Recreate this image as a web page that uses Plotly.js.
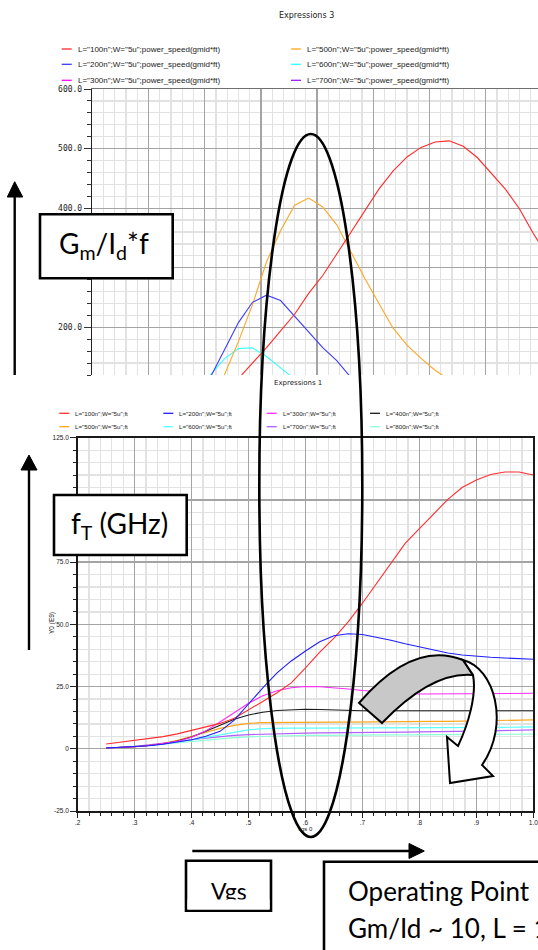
<!DOCTYPE html>
<html>
<head>
<meta charset="utf-8">
<script src="https://cdn.plot.ly/plotly-3.0.1.min.js"></script>
<style>
  html, body { margin: 0; padding: 0; background: #ffffff; }
  #chart { width: 538px; height: 950px; }
</style>
</head>
<body>
<div id="chart"></div>
<script>
// ---------- Upper panel: power_speed(gmid*ft) vs Vgs ----------
const topVgs = [0.385, 0.41, 0.435, 0.46, 0.485, 0.51, 0.535, 0.56, 0.585, 0.61, 0.635, 0.66, 0.685,
                0.71, 0.735, 0.76, 0.785, 0.81, 0.835, 0.86, 0.885, 0.91, 0.935, 0.96, 0.985, 1.01];
const topL100 = [null, null, 88, 114, 140, 166, 194, 222, 257, 287, 323, 360, 397,
                 432, 462, 486, 502, 511, 513, 504, 485, 459, 432, 399, 357, 320];
const topL200 = [75, 116, 162, 208, 242, 254, 245, 219, 192, 166, 144, 116, null,
                 null, null, null, null, null, null, null, null, null, null, null, null, null];
const topL500 = [null, 70, 120, 176, 238, 310, 362, 405, 417, 402, 372, 327, 282,
                 240, 199, 170, 148, 128, 112, null, null, null, null, null, null, null];
const topL600 = [88, 120, 147, 164.5, 165.5, 151, 132, 113, null, null, null, null, null,
                 null, null, null, null, null, null, null, null, null, null, null, null, null];

const topLegendNames = [
  'L="100n";W="5u";power_speed(gmid*ft)',
  'L="200n";W="5u";power_speed(gmid*ft)',
  'L="300n";W="5u";power_speed(gmid*ft)',
  'L="500n";W="5u";power_speed(gmid*ft)',
  'L="600n";W="5u";power_speed(gmid*ft)',
  'L="700n";W="5u";power_speed(gmid*ft)'
];
const topLegendColors = ['#ff2a2a', '#3c3cff', '#ff00ff', '#ffa623', '#33ffff', '#9a1aff'];
const topYTickVals = [200, 300, 400, 500, 600];
const topYTickText = ['200.0', '300.0', '400.0', '500.0', '600.0'];

// ---------- Lower panel: fT (GHz) vs Vgs ----------
const vgs = [0.25, 0.275, 0.3, 0.325, 0.35, 0.375, 0.4, 0.425, 0.45, 0.475, 0.5, 0.525, 0.55, 0.575, 0.6, 0.625,
             0.65, 0.675, 0.7, 0.725, 0.75, 0.775, 0.8, 0.825, 0.85, 0.875, 0.9, 0.925, 0.95, 0.975, 1.0];
const ftL100 = [1.9, 2.6, 3.3, 4.0, 4.9, 6.0, 7.3, 8.6, 10.2, 12.3, 15.5, 19.0, 22.5, 26.5, 32.5, 38.8,
                44.5, 51.0, 58.5, 66.5, 75.0, 82.5, 88.5, 94.5, 100.2, 105.0, 108.0, 110.2, 111.2, 111.2, 110.0];
const ftL200 = [0.3, 0.5, 0.8, 1.2, 1.8, 2.6, 3.6, 5.0, 7.0, 11.5, 18.0, 24.5, 30.5, 35.3, 39.3, 43.0,
                45.4, 46.2, 45.9, 44.9, 43.6, 42.2, 40.9, 39.7, 38.5, 37.7, 37.1, 36.8, 36.5, 36.2, 36.0];
const ftL300 = [0.3, 0.5, 0.8, 1.3, 2.0, 3.0, 4.6, 7.2, 10.8, 14.6, 18.3, 21.3, 23.3, 24.5, 25.0, 24.9,
                24.5, 24.0, 23.4, 22.9, 22.5, 22.2, 22.0, 22.0, 22.0, 22.0, 22.1, 22.2, 22.2, 22.3, 22.3];
const ftL400 = [0.3, 0.5, 0.8, 1.3, 2.0, 3.1, 4.7, 7.0, 9.6, 11.9, 13.6, 14.7, 15.4, 15.8, 15.9, 15.8,
                15.6, 15.4, 15.3, 15.3, 15.3, 15.3, 15.3, 15.3, 15.3, 15.3, 15.3, 15.3, 15.3, 15.3, 15.3];
const ftL500 = [0.3, 0.5, 0.8, 1.3, 2.1, 3.4, 5.0, 6.8, 8.2, 9.4, 10.2, 10.5, 10.6, 10.6, 10.6, 10.7,
                10.7, 10.7, 10.8, 10.8, 10.8, 10.9, 10.9, 11.0, 11.0, 11.1, 11.3, 11.4, 11.5, 11.6, 11.6];
const ftL600 = [0.2, 0.5, 0.9, 1.3, 1.9, 2.6, 3.5, 4.6, 5.7, 6.8, 7.6, 8.1, 8.3, 8.3, 8.3, 8.3,
                8.3, 8.3, 8.3, 8.3, 8.4, 8.4, 8.4, 8.4, 8.4, 8.5, 8.5, 8.6, 8.6, 8.7, 8.8];
const ftL700 = [0.2, 0.5, 1.0, 1.6, 2.2, 2.9, 3.6, 4.3, 4.9, 5.4, 5.7, 5.9, 6.1, 6.2, 6.3, 6.4,
                6.4, 6.5, 6.5, 6.6, 6.6, 6.7, 6.8, 6.8, 6.9, 7.0, 7.1, 7.2, 7.3, 7.5, 7.6];
const ftL800 = [0.2, 0.5, 0.9, 1.3, 1.8, 2.4, 3.0, 3.6, 4.1, 4.5, 4.8, 5.0, 5.2, 5.3, 5.4, 5.4,
                5.5, 5.5, 5.5, 5.6, 5.6, 5.6, 5.7, 5.7, 5.7, 5.8, 5.8, 5.8, 5.9, 5.9, 5.9];

const botLegendNames = [
  'L="100n";W="5u";ft', 'L="200n";W="5u";ft', 'L="300n";W="5u";ft', 'L="400n";W="5u";ft',
  'L="500n";W="5u";ft', 'L="600n";W="5u";ft', 'L="700n";W="5u";ft', 'L="800n";W="5u";ft'
];
const botLegendColors = ['#ff2e2e', '#1f1fff', '#ff2cff', '#1a1a1a', '#ffa61a', '#5cffff', '#b060ff', '#8effd8'];
const botXTickVals = [0.2, 0.3, 0.4, 0.5, 0.6, 0.7, 0.8, 0.9, 1.0];
const botXTickText = ['.2', '.3', '.4', '.5', '.6', '.7', '.8', '.9', '1.0'];
const botYTickVals = [-25, 0, 25, 50, 75, 100, 125];
const botYTickText = ['-25.0', '0', '25.0', '50.0', '75.0', '100.0', '125.0'];

// ---------- helpers: page pixels -> paper fractions ----------
const W = 538, H = 950;
const fx = x => x / W;
const fy = y => 1 - y / H;
const shapes = [];
const annotations = [];

function seg(x0, y0, x1, y1, color, width) {
  shapes.push({type: 'line', xref: 'paper', yref: 'paper',
    x0: fx(x0), y0: fy(y0), x1: fx(x1), y1: fy(y1), line: {color: color, width: width}});
}
function box(x0, y0, x1, y1, lw) {
  shapes.push({type: 'rect', xref: 'paper', yref: 'paper', layer: 'above',
    x0: fx(x0), y0: fy(y0), x1: fx(x1), y1: fy(y1),
    fillcolor: '#ffffff', line: {color: '#000000', width: lw}});
}
function pathPx(cmds, fill, lw) {
  const d = cmds.map(c => {
    if (c[0] === 'Z') return 'Z';
    const pts = [];
    for (let i = 1; i < c.length; i += 2) pts.push(fx(c[i]).toFixed(5) + ',' + fy(c[i + 1]).toFixed(5));
    return c[0] + ' ' + pts.join(' ');
  }).join(' ');
  shapes.push({type: 'path', xref: 'paper', yref: 'paper', layer: 'above', path: d,
    fillcolor: fill, line: {color: '#000000', width: lw}});
}
function label(str, x, y, size, family, opts) {
  annotations.push(Object.assign({
    xref: 'paper', yref: 'paper', x: fx(x), y: fy(y), text: str, showarrow: false,
    xanchor: 'center', yanchor: 'middle', font: {size: size, family: family, color: '#1a1a1a'}
  }, opts || {}));
}

// ---------- traces ----------
function topTrace(y, color) {
  return {x: topVgs, y: y, xaxis: 'x', yaxis: 'y', type: 'scatter', mode: 'lines',
          line: {color: color, width: 1.1}, showlegend: false, hoverinfo: 'skip'};
}
function botTrace(y, color) {
  return {x: vgs, y: y, xaxis: 'x2', yaxis: 'y2', type: 'scatter', mode: 'lines',
          line: {color: color, width: 1.1}, showlegend: false, hoverinfo: 'skip'};
}
const traces = [
  topTrace(topL600, topLegendColors[4]),
  topTrace(topL500, topLegendColors[3]),
  topTrace(topL200, topLegendColors[1]),
  topTrace(topL100, topLegendColors[0]),
  botTrace(ftL800, botLegendColors[7]),
  botTrace(ftL700, botLegendColors[6]),
  botTrace(ftL600, botLegendColors[5]),
  botTrace(ftL500, botLegendColors[4]),
  botTrace(ftL400, botLegendColors[3]),
  botTrace(ftL300, botLegendColors[2]),
  botTrace(ftL100, botLegendColors[0]),
  botTrace(ftL200, botLegendColors[1])
];

// ---------- legends and panel titles ----------
label('Expressions 3', 306.7, 16, 8, 'DejaVu Sans');
topLegendNames.forEach((name, i) => {
  const col = Math.floor(i / 3), row = i % 3;
  const x0 = col === 0 ? 61.7 : 291;
  const y = [49, 64.3, 80.3][row];
  seg(x0, y, x0 + 10, y, topLegendColors[i], 1.3);
  label(name, x0 + 14.3, y, 8, 'Liberation Sans', {xanchor: 'left'});
});

label('Expressions 1', 298.3, 383.3, 7, 'DejaVu Sans');
botLegendNames.forEach((name, i) => {
  const col = i % 4, row = Math.floor(i / 4);
  const x0 = [59.3, 163.3, 266.7, 370][col];
  const y = row === 0 ? 413.3 : 426.7;
  seg(x0, y, x0 + 10, y, botLegendColors[i], 1.3);
  label(name, x0 + 14, y, 6.2, 'Liberation Sans', {xanchor: 'left'});
});

// axis captions of the lower panel
label('Y0 (E9)', 52, 623, 6.5, 'Liberation Sans', {textangle: -90});
label('vgs 0', 305.5, 828.7, 6, 'Liberation Sans');

// ---------- overlay call-outs ----------
// highlight ellipse around the operating region
shapes.push({type: 'circle', xref: 'paper', yref: 'paper', layer: 'above',
  x0: fx(259.3), x1: fx(362.3), y0: fy(837), y1: fy(134),
  line: {color: '#000000', width: 2.6}});

// vertical arrow beside the upper panel
seg(14.7, 375, 14.7, 194, '#000000', 2.4);
pathPx([['M', 7.3, 197], ['L', 22.7, 197], ['L', 14.7, 181.7], ['Z']], '#000000', 1);
box(40, 214.3, 172.7, 278.3, 2.6);
label('G<sub>m</sub>/I<sub>d</sub>*f', 104, 245, 28, 'Lato', {font: {size: 28, family: 'Lato', color: '#000000'}});

// vertical arrow beside the lower panel
seg(29, 650, 29, 467, '#000000', 2.4);
pathPx([['M', 21, 470], ['L', 37, 470], ['L', 29, 455], ['Z']], '#000000', 1);
box(54, 495, 186.7, 555, 2.6);
label('f<sub>T</sub> (GHz)', 119, 525, 28, 'Lato', {font: {size: 28, family: 'Lato', color: '#000000'}});

// horizontal Vgs arrow
seg(192.3, 851, 411, 851, '#000000', 2.4);
pathPx([['M', 409, 843.5], ['L', 409, 858.5], ['L', 424.3, 851], ['Z']], '#000000', 1);
box(186, 860.7, 271, 910.7, 2.6);
label('Vgs', 228.5, 890.5, 23, 'Lato', {font: {size: 23, family: 'Lato', color: '#000000'}});
label(' ', 228.5, 904.3, 1, 'Lato', {width: 81, height: 9, bgcolor: '#ffffff', borderpad: 0});

// operating-point box running off the page
box(324, 861.7, 600, 1000, 2.6);
label('Operating Point', 345.7, 891, 26, 'Lato', {xanchor: 'left', font: {size: 26, family: 'Lato', color: '#000000'}});
label('Gm/Id ~ 10, L = 100n', 345.7, 927.6, 26, 'Lato', {xanchor: 'left', font: {size: 26, family: 'Lato', color: '#000000'}});

// curved block arrow pointing down to the flat fT region
pathPx([['M', 359, 703], ['Q', 413, 640, 463, 660], ['L', 473, 675],
        ['Q', 432, 671, 382, 723], ['Z']], '#c8c8c8', 2);
pathPx([['M', 463, 660], ['C', 495, 668, 510, 725, 482, 765], ['L', 493, 776], ['L', 450, 783],
        ['L', 447, 737], ['L', 458, 746], ['C', 468, 725, 477, 695, 473, 675], ['Z']], '#ffffff', 2);

// ---------- axes ----------
const gridMajor = '#a4a4a4', gridMinor = '#e2e2e2';
const layout = {
  width: W, height: H, autosize: false,
  margin: {l: 0, r: 0, t: 0, b: 0, pad: 0},
  paper_bgcolor: '#ffffff', plot_bgcolor: '#ffffff',
  showlegend: false,
  xaxis: {
    domain: [fx(92.3), 1], range: [0.2, 0.2 + (538 - 92.3) / 562], anchor: 'y', side: 'top',
    showline: true, linecolor: '#707070', linewidth: 1.5, mirror: false,
    tick0: 0.2, dtick: 0.1, ticks: '', showticklabels: false,
    showgrid: true, gridcolor: gridMajor, gridwidth: 1.3, zeroline: false,
    minor: {dtick: 0.02, showgrid: true, gridcolor: gridMinor, gridwidth: 1.2, ticks: ''}
  },
  yaxis: {
    domain: [fy(375), fy(89)], range: [120, 600], anchor: 'x',
    showline: true, linecolor: '#222222', linewidth: 1.5,
    tickvals: topYTickVals, ticktext: topYTickText, ticks: 'outside', ticklen: 7, tickcolor: '#333333', tickwidth: 1,
    tickfont: {size: 8, family: 'DejaVu Sans Mono', color: '#222222'},
    showgrid: true, gridcolor: gridMajor, gridwidth: 1.3, zeroline: false,
    minor: {dtick: 20, tick0: 0, showgrid: true, gridcolor: gridMinor, gridwidth: 1.2, ticks: 'outside', ticklen: 4, tickcolor: '#333333'}
  },
  xaxis2: {
    domain: [fx(77.7), fx(533.3)], range: [0.2, 1.0], anchor: 'y2',
    showline: true, linecolor: '#1a1a1a', linewidth: 1.5, mirror: true,
    tickvals: botXTickVals, ticktext: botXTickText, ticks: 'outside', ticklen: 5, tickcolor: '#222222',
    ticklabeloverflow: 'allow',
    tickfont: {size: 6.5, family: 'Liberation Sans', color: '#222222'},
    showgrid: true, gridcolor: gridMajor, gridwidth: 1.3, zeroline: false,
    minor: {dtick: 0.02, tick0: 0.2, showgrid: true, gridcolor: gridMinor, gridwidth: 1.2, ticks: 'outside', ticklen: 3, tickcolor: '#222222'}
  },
  yaxis2: {
    domain: [fy(811), fy(437.7)], range: [-25, 125], anchor: 'x2',
    showline: true, linecolor: '#1a1a1a', linewidth: 1.5, mirror: true,
    tickvals: botYTickVals, ticktext: botYTickText, ticks: 'outside', ticklen: 6, tickcolor: '#222222',
    tickfont: {size: 6.5, family: 'Liberation Sans', color: '#222222'},
    showgrid: true, gridcolor: gridMajor, gridwidth: 1.3, zeroline: false,
    minor: {dtick: 5, tick0: 0, showgrid: true, gridcolor: gridMinor, gridwidth: 1.2, ticks: 'outside', ticklen: 3, tickcolor: '#222222'}
  },
  shapes: shapes,
  annotations: annotations
};

Plotly.newPlot('chart', traces, layout, {displayModeBar: false, staticPlot: true});
</script>
</body>
</html>
